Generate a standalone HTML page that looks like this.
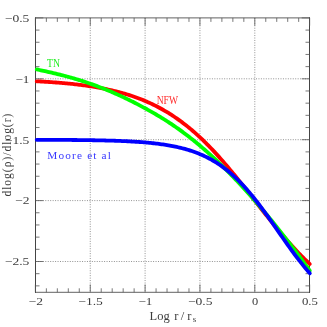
<!DOCTYPE html>
<html><head><meta charset="utf-8"><title>plot</title><style>html,body{margin:0;padding:0;background:#fff;width:327px;height:327px;overflow:hidden;font-family:"Liberation Serif",serif}</style></head><body>
<svg width="327" height="327" viewBox="0 0 327 327" style="position:absolute;left:0;top:0;will-change:transform">
<rect width="327" height="327" fill="#fff"/>
<line x1="90.25" y1="17.90" x2="90.25" y2="292.30" stroke="#929292" stroke-width="1" stroke-dasharray="1 1.45" />
<line x1="145.10" y1="17.90" x2="145.10" y2="292.30" stroke="#929292" stroke-width="1" stroke-dasharray="1 1.45" />
<line x1="199.95" y1="17.90" x2="199.95" y2="292.30" stroke="#929292" stroke-width="1" stroke-dasharray="1 1.45" />
<line x1="254.80" y1="17.90" x2="254.80" y2="292.30" stroke="#929292" stroke-width="1" stroke-dasharray="1 1.45" />
<line x1="35.50" y1="78.80" x2="309.50" y2="78.80" stroke="#929292" stroke-width="1" stroke-dasharray="1 1.45" />
<line x1="35.50" y1="139.70" x2="309.50" y2="139.70" stroke="#929292" stroke-width="1" stroke-dasharray="1 1.45" />
<line x1="35.50" y1="200.60" x2="309.50" y2="200.60" stroke="#929292" stroke-width="1" stroke-dasharray="1 1.45" />
<line x1="35.50" y1="261.50" x2="309.50" y2="261.50" stroke="#929292" stroke-width="1" stroke-dasharray="1 1.45" />
<path d="M35.50 17.90H309.50M35.50 292.30H309.50" fill="none" stroke="#5a5a5a" stroke-width="0.95" stroke-linecap="square"/>
<path d="M35.50 17.90V292.30M309.50 17.90V292.30" fill="none" stroke="#3a3a3a" stroke-width="0.95" stroke-linecap="square"/>
<path d="M35.40 292.30v-7.80M35.40 17.90v7.80M46.37 292.30v-4.00M46.37 17.90v4.00M57.34 292.30v-4.00M57.34 17.90v4.00M68.31 292.30v-4.00M68.31 17.90v4.00M79.28 292.30v-4.00M79.28 17.90v4.00M90.25 292.30v-7.80M90.25 17.90v7.80M101.22 292.30v-4.00M101.22 17.90v4.00M112.19 292.30v-4.00M112.19 17.90v4.00M123.16 292.30v-4.00M123.16 17.90v4.00M134.13 292.30v-4.00M134.13 17.90v4.00M145.10 292.30v-7.80M145.10 17.90v7.80M156.07 292.30v-4.00M156.07 17.90v4.00M167.04 292.30v-4.00M167.04 17.90v4.00M178.01 292.30v-4.00M178.01 17.90v4.00M188.98 292.30v-4.00M188.98 17.90v4.00M199.95 292.30v-7.80M199.95 17.90v7.80M210.92 292.30v-4.00M210.92 17.90v4.00M221.89 292.30v-4.00M221.89 17.90v4.00M232.86 292.30v-4.00M232.86 17.90v4.00M243.83 292.30v-4.00M243.83 17.90v4.00M254.80 292.30v-7.80M254.80 17.90v7.80M265.77 292.30v-4.00M265.77 17.90v4.00M276.74 292.30v-4.00M276.74 17.90v4.00M287.71 292.30v-4.00M287.71 17.90v4.00M298.68 292.30v-4.00M298.68 17.90v4.00M309.65 292.30v-7.80M309.65 17.90v7.80M35.50 17.90h7.80M309.50 17.90h-7.80M35.50 30.08h4.00M309.50 30.08h-4.00M35.50 42.26h4.00M309.50 42.26h-4.00M35.50 54.44h4.00M309.50 54.44h-4.00M35.50 66.62h4.00M309.50 66.62h-4.00M35.50 78.80h7.80M309.50 78.80h-7.80M35.50 90.98h4.00M309.50 90.98h-4.00M35.50 103.16h4.00M309.50 103.16h-4.00M35.50 115.34h4.00M309.50 115.34h-4.00M35.50 127.52h4.00M309.50 127.52h-4.00M35.50 139.70h7.80M309.50 139.70h-7.80M35.50 151.88h4.00M309.50 151.88h-4.00M35.50 164.06h4.00M309.50 164.06h-4.00M35.50 176.24h4.00M309.50 176.24h-4.00M35.50 188.42h4.00M309.50 188.42h-4.00M35.50 200.60h7.80M309.50 200.60h-7.80M35.50 212.78h4.00M309.50 212.78h-4.00M35.50 224.96h4.00M309.50 224.96h-4.00M35.50 237.14h4.00M309.50 237.14h-4.00M35.50 249.32h4.00M309.50 249.32h-4.00M35.50 261.50h7.80M309.50 261.50h-7.80M35.50 273.68h4.00M309.50 273.68h-4.00M35.50 285.86h4.00M309.50 285.86h-4.00" stroke="#555" stroke-width="0.8" fill="none"/>
<path d="M36.72 81.28 L38.09 81.35 L39.46 81.42 L40.83 81.50 L42.21 81.58 L43.58 81.66 L44.95 81.74 L46.32 81.83 L47.69 81.91 L49.07 82.00 L50.44 82.10 L51.81 82.19 L53.18 82.29 L54.56 82.39 L55.93 82.49 L57.30 82.60 L58.67 82.71 L60.05 82.82 L61.42 82.93 L62.79 83.05 L64.16 83.18 L65.53 83.30 L66.91 83.43 L68.28 83.56 L69.65 83.70 L71.02 83.84 L72.40 83.98 L73.77 84.13 L75.14 84.28 L76.51 84.44 L77.89 84.60 L79.26 84.77 L80.63 84.94 L82.00 85.11 L83.37 85.29 L84.75 85.47 L86.12 85.66 L87.49 85.86 L88.86 86.06 L90.24 86.27 L91.61 86.48 L92.98 86.69 L94.35 86.92 L95.73 87.15 L97.10 87.38 L98.47 87.62 L99.84 87.87 L101.21 88.13 L102.59 88.39 L103.96 88.66 L105.33 88.93 L106.70 89.22 L108.08 89.51 L109.45 89.81 L110.82 90.11 L112.19 90.43 L113.57 90.75 L114.94 91.08 L116.31 91.42 L117.68 91.77 L119.05 92.13 L120.43 92.50 L121.80 92.87 L123.17 93.26 L124.54 93.66 L125.92 94.06 L127.29 94.48 L128.66 94.91 L130.03 95.35 L131.40 95.80 L132.78 96.26 L134.15 96.73 L135.52 97.22 L136.89 97.71 L138.27 98.22 L139.64 98.74 L141.01 99.28 L142.38 99.82 L143.76 100.38 L145.13 100.96 L146.50 101.54 L147.87 102.15 L149.24 102.76 L150.62 103.39 L151.99 104.03 L153.36 104.69 L154.73 105.37 L156.11 106.06 L157.48 106.76 L158.85 107.48 L160.22 108.22 L161.60 108.97 L162.97 109.74 L164.34 110.53 L165.71 111.33 L167.08 112.15 L168.46 112.99 L169.83 113.85 L171.20 114.72 L172.57 115.61 L173.95 116.52 L175.32 117.45 L176.69 118.39 L178.06 119.36 L179.44 120.34 L180.81 121.34 L182.18 122.36 L183.55 123.40 L184.92 124.46 L186.30 125.54 L187.67 126.64 L189.04 127.76 L190.41 128.89 L191.79 130.05 L193.16 131.22 L194.53 132.42 L195.90 133.63 L197.28 134.87 L198.65 136.12 L200.02 137.39 L201.39 138.68 L202.76 139.99 L204.14 141.32 L205.51 142.67 L206.88 144.04 L208.25 145.42 L209.63 146.82 L211.00 148.25 L212.37 149.68 L213.74 151.14 L215.12 152.61 L216.49 154.10 L217.86 155.61 L219.23 157.13 L220.60 158.67 L221.98 160.23 L223.35 161.80 L224.72 163.38 L226.09 164.98 L227.47 166.59 L228.84 168.21 L230.21 169.85 L231.58 171.50 L232.95 173.16 L234.33 174.83 L235.70 176.51 L237.07 178.20 L238.44 179.90 L239.82 181.60 L241.19 183.32 L242.56 185.04 L243.93 186.77 L245.31 188.50 L246.68 190.24 L248.05 191.99 L249.42 193.73 L250.79 195.48 L252.17 197.24 L253.54 198.99 L254.91 200.74 L256.28 202.50 L257.66 204.25 L259.03 206.00 L260.40 207.75 L261.77 209.50 L263.15 211.24 L264.52 212.98 L265.89 214.71 L267.26 216.44 L268.63 218.16 L270.01 219.88 L271.38 221.58 L272.75 223.28 L274.12 224.97 L275.50 226.65 L276.87 228.32 L278.24 229.97 L279.61 231.62 L280.99 233.25 L282.36 234.88 L283.73 236.48 L285.10 238.08 L286.47 239.66 L287.85 241.23 L289.22 242.78 L290.59 244.31 L291.96 245.83 L293.34 247.34 L294.71 248.83 L296.08 250.30 L297.45 251.75 L298.83 253.19 L300.20 254.60 L301.57 256.01 L302.94 257.39 L304.31 258.75 L305.69 260.10 L307.06 261.42 L308.43 262.73 L309.80 264.02" fill="none" stroke="#ff0000" stroke-width="3.8" stroke-linecap="round" stroke-linejoin="round"/>
<path d="M36.72 69.44 L38.09 69.73 L39.46 70.01 L40.83 70.30 L42.21 70.59 L43.58 70.88 L44.95 71.18 L46.32 71.48 L47.69 71.78 L49.07 72.09 L50.44 72.40 L51.81 72.72 L53.18 73.04 L54.56 73.37 L55.93 73.70 L57.30 74.03 L58.67 74.37 L60.05 74.71 L61.42 75.06 L62.79 75.41 L64.16 75.77 L65.53 76.13 L66.91 76.50 L68.28 76.87 L69.65 77.25 L71.02 77.64 L72.40 78.03 L73.77 78.42 L75.14 78.83 L76.51 79.23 L77.89 79.65 L79.26 80.07 L80.63 80.50 L82.00 80.93 L83.37 81.37 L84.75 81.81 L86.12 82.27 L87.49 82.73 L88.86 83.19 L90.24 83.67 L91.61 84.15 L92.98 84.64 L94.35 85.13 L95.73 85.63 L97.10 86.14 L98.47 86.66 L99.84 87.18 L101.21 87.71 L102.59 88.25 L103.96 88.80 L105.33 89.35 L106.70 89.91 L108.08 90.47 L109.45 91.05 L110.82 91.62 L112.19 92.21 L113.57 92.80 L114.94 93.40 L116.31 94.01 L117.68 94.62 L119.05 95.25 L120.43 95.87 L121.80 96.51 L123.17 97.15 L124.54 97.79 L125.92 98.45 L127.29 99.11 L128.66 99.78 L130.03 100.45 L131.40 101.13 L132.78 101.82 L134.15 102.51 L135.52 103.21 L136.89 103.92 L138.27 104.63 L139.64 105.35 L141.01 106.07 L142.38 106.81 L143.76 107.55 L145.13 108.29 L146.50 109.04 L147.87 109.80 L149.24 110.57 L150.62 111.34 L151.99 112.12 L153.36 112.90 L154.73 113.70 L156.11 114.50 L157.48 115.31 L158.85 116.13 L160.22 116.96 L161.60 117.80 L162.97 118.65 L164.34 119.51 L165.71 120.38 L167.08 121.25 L168.46 122.14 L169.83 123.04 L171.20 123.95 L172.57 124.87 L173.95 125.81 L175.32 126.75 L176.69 127.71 L178.06 128.67 L179.44 129.65 L180.81 130.64 L182.18 131.65 L183.55 132.66 L184.92 133.69 L186.30 134.72 L187.67 135.77 L189.04 136.83 L190.41 137.90 L191.79 138.99 L193.16 140.08 L194.53 141.19 L195.90 142.30 L197.28 143.43 L198.65 144.57 L200.02 145.73 L201.39 146.89 L202.76 148.07 L204.14 149.25 L205.51 150.45 L206.88 151.66 L208.25 152.88 L209.63 154.12 L211.00 155.36 L212.37 156.61 L213.74 157.88 L215.12 159.16 L216.49 160.44 L217.86 161.74 L219.23 163.05 L220.60 164.37 L221.98 165.70 L223.35 167.04 L224.72 168.40 L226.09 169.76 L227.47 171.13 L228.84 172.52 L230.21 173.91 L231.58 175.32 L232.95 176.73 L234.33 178.16 L235.70 179.59 L237.07 181.04 L238.44 182.49 L239.82 183.96 L241.19 185.43 L242.56 186.92 L243.93 188.42 L245.31 189.92 L246.68 191.44 L248.05 192.96 L249.42 194.50 L250.79 196.04 L252.17 197.59 L253.54 199.16 L254.91 200.73 L256.28 202.31 L257.66 203.90 L259.03 205.50 L260.40 207.11 L261.77 208.73 L263.15 210.36 L264.52 211.99 L265.89 213.64 L267.26 215.30 L268.63 216.96 L270.01 218.63 L271.38 220.31 L272.75 222.00 L274.12 223.70 L275.50 225.41 L276.87 227.12 L278.24 228.85 L279.61 230.58 L280.99 232.32 L282.36 234.07 L283.73 235.83 L285.10 237.60 L286.47 239.37 L287.85 241.15 L289.22 242.94 L290.59 244.74 L291.96 246.55 L293.34 248.36 L294.71 250.18 L296.08 252.01 L297.45 253.85 L298.83 255.70 L300.20 257.55 L301.57 259.41 L302.94 261.28 L304.31 263.15 L305.69 265.03 L307.06 266.92 L308.43 268.82 L309.80 270.73" fill="none" stroke="#00ff00" stroke-width="3.8" stroke-linecap="round" stroke-linejoin="round"/>
<path d="M36.72 139.79 L38.09 139.80 L39.46 139.80 L40.83 139.80 L42.21 139.81 L43.58 139.81 L44.95 139.82 L46.32 139.82 L47.69 139.83 L49.07 139.84 L50.44 139.84 L51.81 139.85 L53.18 139.85 L54.56 139.86 L55.93 139.87 L57.30 139.88 L58.67 139.88 L60.05 139.89 L61.42 139.90 L62.79 139.91 L64.16 139.92 L65.53 139.93 L66.91 139.94 L68.28 139.95 L69.65 139.96 L71.02 139.97 L72.40 139.98 L73.77 139.99 L75.14 140.01 L76.51 140.02 L77.89 140.03 L79.26 140.05 L80.63 140.06 L82.00 140.08 L83.37 140.10 L84.75 140.11 L86.12 140.13 L87.49 140.15 L88.86 140.17 L90.24 140.19 L91.61 140.21 L92.98 140.24 L94.35 140.26 L95.73 140.29 L97.10 140.31 L98.47 140.34 L99.84 140.37 L101.21 140.40 L102.59 140.43 L103.96 140.46 L105.33 140.49 L106.70 140.53 L108.08 140.56 L109.45 140.60 L110.82 140.64 L112.19 140.68 L113.57 140.72 L114.94 140.77 L116.31 140.82 L117.68 140.87 L119.05 140.92 L120.43 140.97 L121.80 141.03 L123.17 141.08 L124.54 141.14 L125.92 141.21 L127.29 141.27 L128.66 141.34 L130.03 141.41 L131.40 141.49 L132.78 141.57 L134.15 141.65 L135.52 141.73 L136.89 141.82 L138.27 141.92 L139.64 142.01 L141.01 142.11 L142.38 142.22 L143.76 142.33 L145.13 142.44 L146.50 142.56 L147.87 142.69 L149.24 142.81 L150.62 142.95 L151.99 143.09 L153.36 143.24 L154.73 143.39 L156.11 143.55 L157.48 143.72 L158.85 143.89 L160.22 144.07 L161.60 144.26 L162.97 144.45 L164.34 144.66 L165.71 144.87 L167.08 145.09 L168.46 145.32 L169.83 145.56 L171.20 145.81 L172.57 146.07 L173.95 146.35 L175.32 146.63 L176.69 146.92 L178.06 147.23 L179.44 147.55 L180.81 147.88 L182.18 148.22 L183.55 148.58 L184.92 148.95 L186.30 149.34 L187.67 149.74 L189.04 150.16 L190.41 150.59 L191.79 151.04 L193.16 151.51 L194.53 152.00 L195.90 152.50 L197.28 153.03 L198.65 153.57 L200.02 154.14 L201.39 154.72 L202.76 155.33 L204.14 155.96 L205.51 156.61 L206.88 157.28 L208.25 157.98 L209.63 158.70 L211.00 159.45 L212.37 160.23 L213.74 161.03 L215.12 161.85 L216.49 162.71 L217.86 163.59 L219.23 164.50 L220.60 165.44 L221.98 166.41 L223.35 167.41 L224.72 168.45 L226.09 169.51 L227.47 170.60 L228.84 171.73 L230.21 172.88 L231.58 174.07 L232.95 175.30 L234.33 176.55 L235.70 177.84 L237.07 179.16 L238.44 180.51 L239.82 181.90 L241.19 183.31 L242.56 184.77 L243.93 186.25 L245.31 187.76 L246.68 189.31 L248.05 190.89 L249.42 192.49 L250.79 194.13 L252.17 195.79 L253.54 197.49 L254.91 199.21 L256.28 200.95 L257.66 202.73 L259.03 204.52 L260.40 206.34 L261.77 208.18 L263.15 210.04 L264.52 211.92 L265.89 213.81 L267.26 215.72 L268.63 217.65 L270.01 219.58 L271.38 221.53 L272.75 223.49 L274.12 225.45 L275.50 227.42 L276.87 229.39 L278.24 231.36 L279.61 233.34 L280.99 235.31 L282.36 237.28 L283.73 239.24 L285.10 241.19 L286.47 243.13 L287.85 245.07 L289.22 246.99 L290.59 248.89 L291.96 250.78 L293.34 252.66 L294.71 254.51 L296.08 256.34 L297.45 258.15 L298.83 259.94 L300.20 261.70 L301.57 263.44 L302.94 265.15 L304.31 266.84 L305.69 268.50 L307.06 270.12 L308.43 271.72 L309.80 273.29" fill="none" stroke="#0000ff" stroke-width="3.8" stroke-linecap="round" stroke-linejoin="round"/>
<text x="35.70" y="305.40" font-family="Liberation Serif, serif" font-size="11.20" text-anchor="middle" fill="#3c3c3c" textLength="14.4" lengthAdjust="spacingAndGlyphs">−2</text>
<text x="90.55" y="305.40" font-family="Liberation Serif, serif" font-size="11.20" text-anchor="middle" fill="#3c3c3c" textLength="24.6" lengthAdjust="spacingAndGlyphs">−1.5</text>
<text x="145.40" y="305.40" font-family="Liberation Serif, serif" font-size="11.20" text-anchor="middle" fill="#3c3c3c" textLength="14" lengthAdjust="spacingAndGlyphs">−1</text>
<text x="200.25" y="305.40" font-family="Liberation Serif, serif" font-size="11.20" text-anchor="middle" fill="#3c3c3c" textLength="24.6" lengthAdjust="spacingAndGlyphs">−0.5</text>
<text x="255.10" y="305.40" font-family="Liberation Serif, serif" font-size="11.20" text-anchor="middle" fill="#3c3c3c" textLength="6.2" lengthAdjust="spacingAndGlyphs">0</text>
<text x="309.95" y="305.40" font-family="Liberation Serif, serif" font-size="11.20" text-anchor="middle" fill="#3c3c3c" textLength="16" lengthAdjust="spacingAndGlyphs">0.5</text>
<text x="29.40" y="21.70" font-family="Liberation Serif, serif" font-size="11.20" text-anchor="end" fill="#3c3c3c" textLength="24.6" lengthAdjust="spacingAndGlyphs">−0.5</text>
<text x="29.40" y="82.60" font-family="Liberation Serif, serif" font-size="11.20" text-anchor="end" fill="#3c3c3c" textLength="14" lengthAdjust="spacingAndGlyphs">−1</text>
<text x="29.40" y="143.50" font-family="Liberation Serif, serif" font-size="11.20" text-anchor="end" fill="#3c3c3c" textLength="24.6" lengthAdjust="spacingAndGlyphs">−1.5</text>
<text x="29.40" y="204.40" font-family="Liberation Serif, serif" font-size="11.20" text-anchor="end" fill="#3c3c3c" textLength="14.4" lengthAdjust="spacingAndGlyphs">−2</text>
<text x="29.40" y="265.30" font-family="Liberation Serif, serif" font-size="11.20" text-anchor="end" fill="#3c3c3c" textLength="24.6" lengthAdjust="spacingAndGlyphs">−2.5</text>
<text x="47.00" y="66.50" font-family="Liberation Serif, serif" font-size="11.50" text-anchor="start" fill="#22ee22" textLength="13" lengthAdjust="spacingAndGlyphs">TN</text>
<text x="156.70" y="103.50" font-family="Liberation Serif, serif" font-size="11.50" text-anchor="start" fill="#ff2a2a" textLength="21.3" lengthAdjust="spacingAndGlyphs">NFW</text>
<text x="47.30" y="158.50" font-family="Liberation Serif, serif" font-size="11.30" text-anchor="start" fill="#3838ff" textLength="63.6" lengthAdjust="spacing">Moore et al</text>
<text x="149.6 157.3 163.6 169 174.3 180.8 187.3" y="320.2" font-family="Liberation Serif, serif" font-size="12.5" fill="#3c3c3c">Log r/r<tspan font-size="9" x="192.8" dy="2">s</tspan></text>
<text transform="translate(10.8 196.6) rotate(-90)" font-family="Liberation Serif, serif" font-size="11.5" fill="#3c3c3c" textLength="83" lengthAdjust="spacing">dlog(ρ)/dlog(r)</text>
</svg>
</body></html>
